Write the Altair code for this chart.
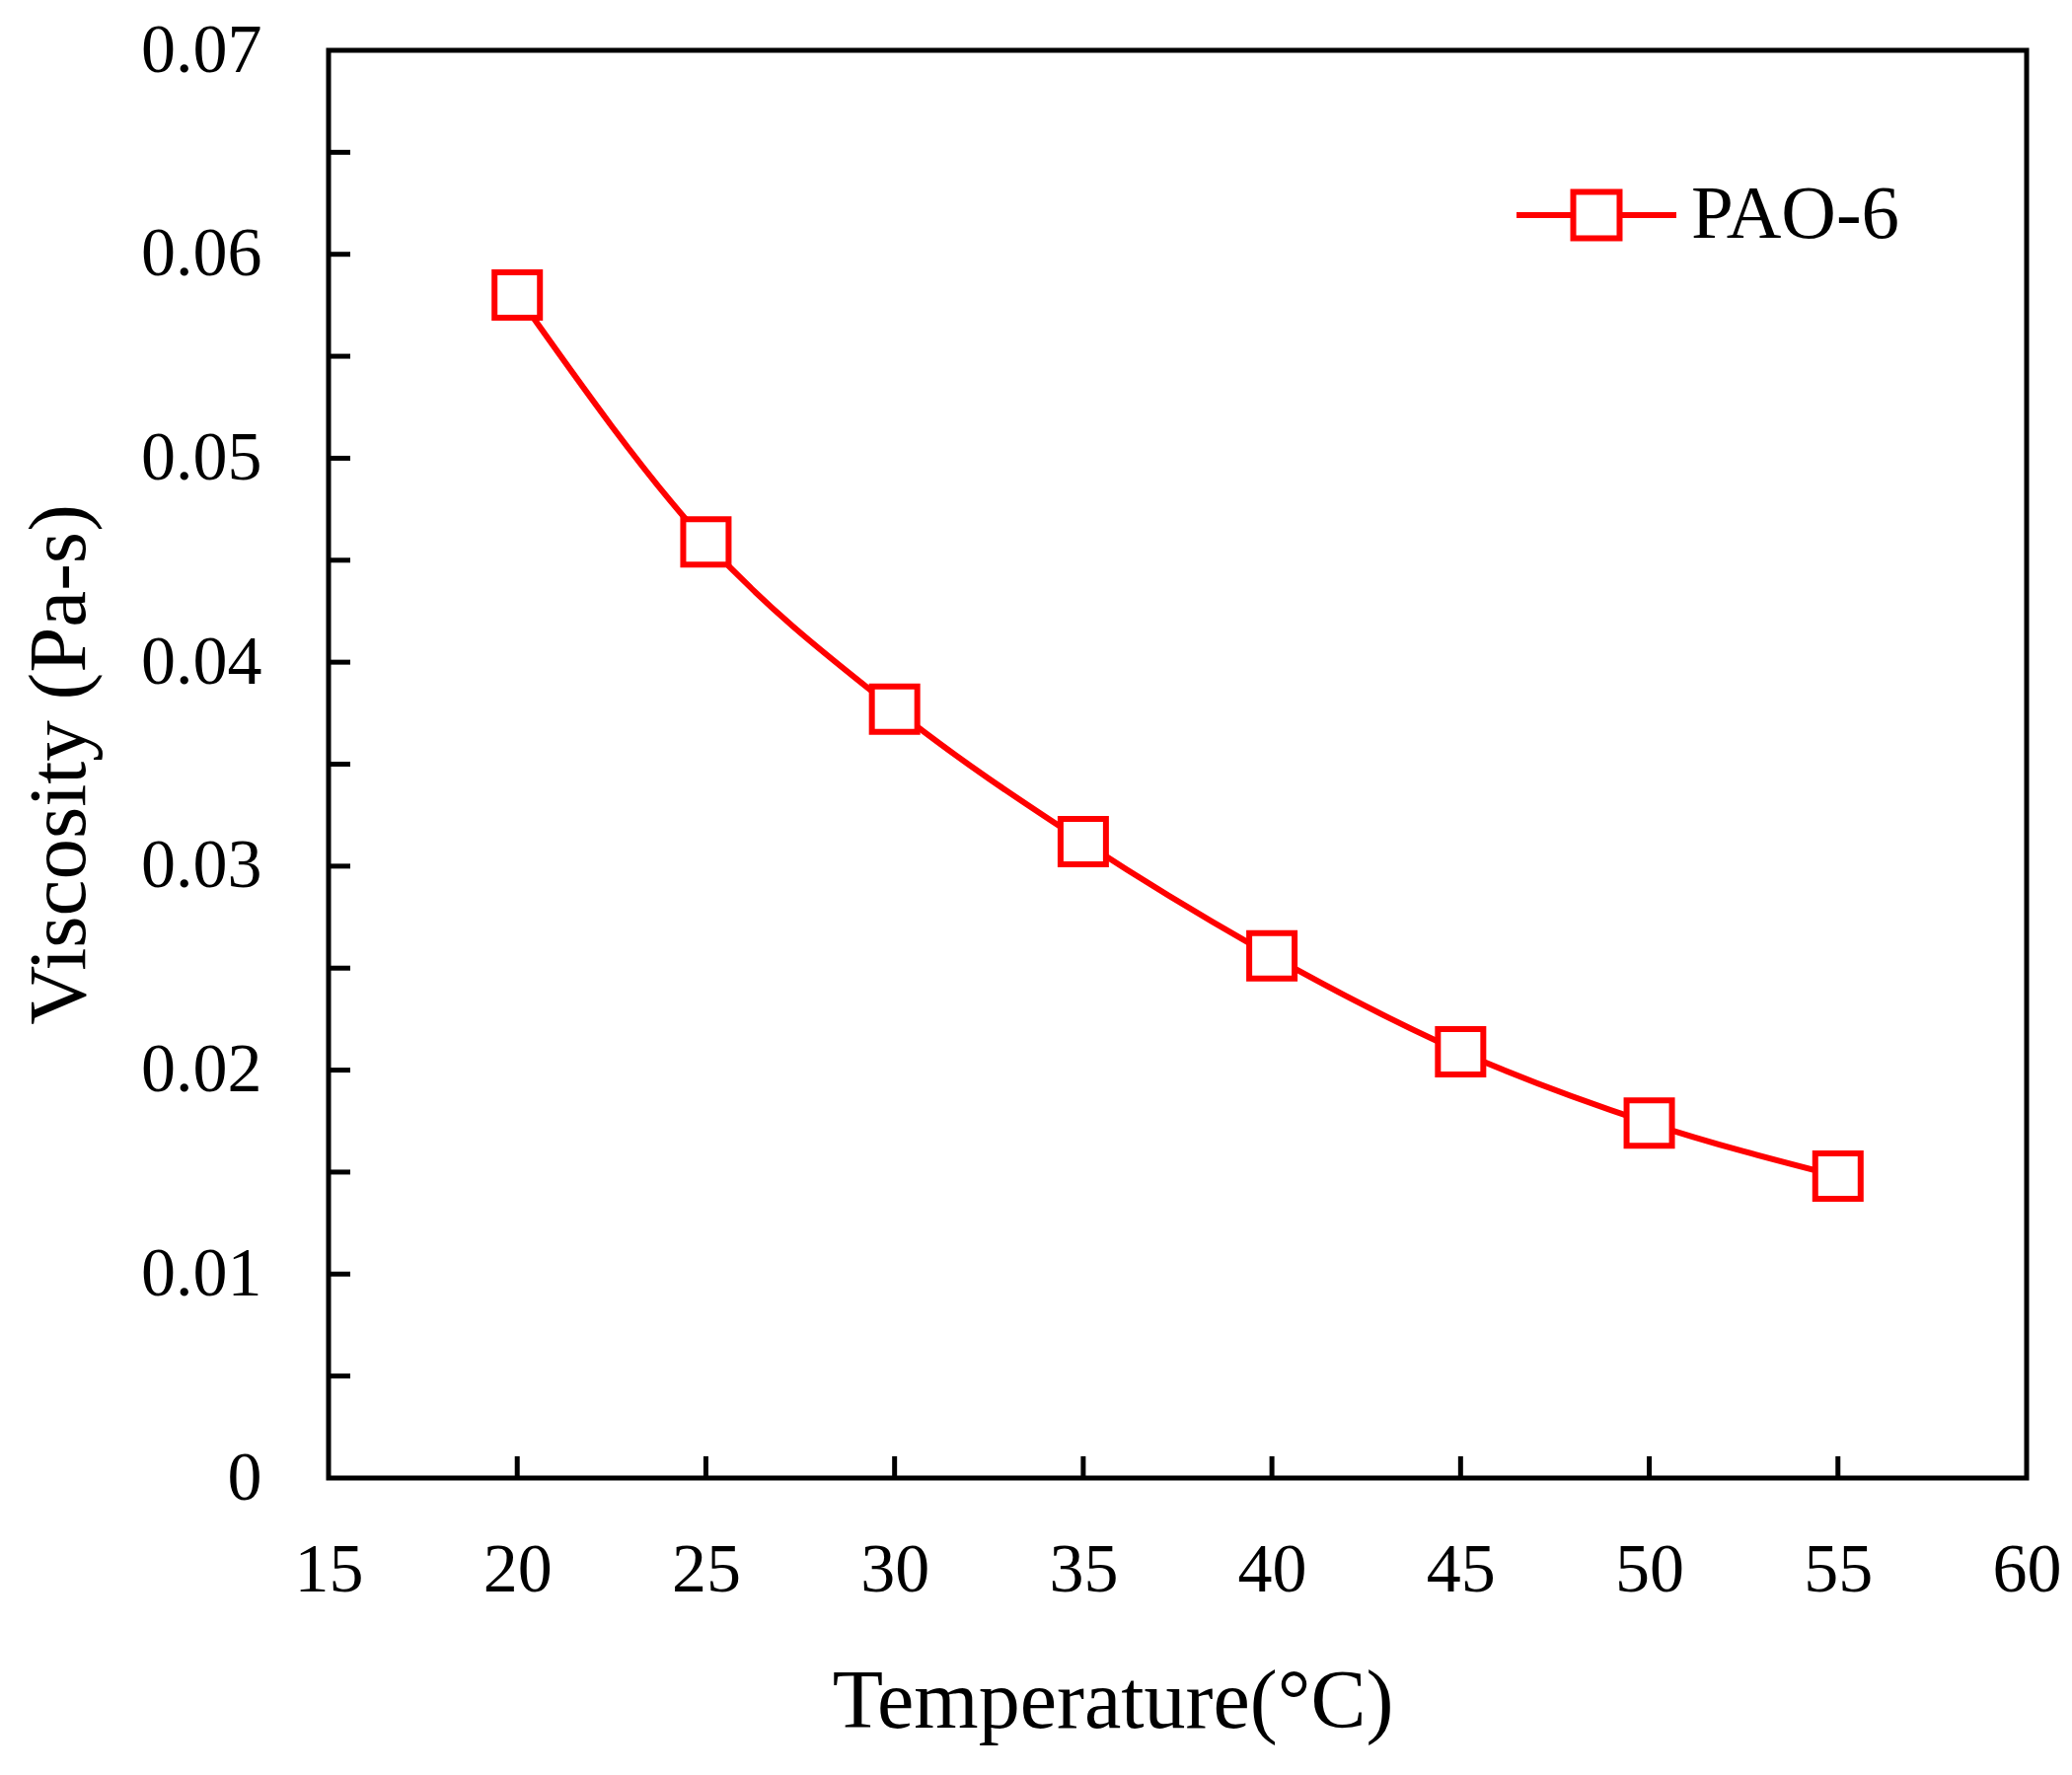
import altair as alt
import pandas as pd

# values
temperature = [20, 25, 30, 35, 40, 45, 50, 55]
viscosity = [0.0580, 0.0459, 0.0377, 0.0312, 0.0256, 0.0209, 0.0174, 0.0148]
series = ["PAO-6"] * len(temperature)

x_labels = [15, 20, 25, 30, 35, 40, 45, 50, 55, 60]
y_labels = [0, 0.01, 0.02, 0.03, 0.04, 0.05, 0.06, 0.07]
x_ticks = [20, 25, 30, 35, 40, 45, 50, 55]
y_ticks = [0.005, 0.01, 0.015, 0.02, 0.025, 0.03, 0.035, 0.04,
           0.045, 0.05, 0.055, 0.06, 0.065]

FONT = "Liberation Serif"
RED = "#ff0000"
W, H = 1721, 1447
TICK = 22

df = pd.DataFrame({"Temperature": temperature, "Viscosity": viscosity, "Series": series})

x_scale = alt.Scale(domain=[15, 60], nice=False, zero=False)
y_scale = alt.Scale(domain=[0, 0.07], nice=False, zero=False)

x_axis = alt.Axis(
    values=x_labels, ticks=False, domain=False, grid=False,
    labelFont=FONT, labelFontSize=70, labelColor="black", labelPadding=59,
    labelFlush=False, labelOverlap=False,
    title="Temperature(°C)", titleFont=FONT, titleFontSize=84,
    titleFontWeight="normal", titleColor="black", titlePadding=58,
    titleX=W / 2 - 66, titleAlign="center",
)
y_axis = alt.Axis(
    values=y_labels, format="~g", ticks=False, domain=False, grid=False,
    labelFont=FONT, labelFontSize=70, labelColor="black", labelPadding=68,
    labelOverlap=False,
    title="Viscosity (Pa-s)", titleFont=FONT, titleFontSize=83,
    titleFontWeight="normal", titleColor="black", titlePadding=40,
)

base = alt.Chart(df).encode(
    x=alt.X("Temperature:Q", scale=x_scale, axis=x_axis),
    y=alt.Y("Viscosity:Q", scale=y_scale, axis=y_axis),
)

line = base.mark_line(interpolate="monotone", strokeWidth=6, color=RED)

# legend symbol: short line with an open square in the middle
legend_path = "M-1,0H-0.29M0.29,0H1M-0.29,-0.29H0.29V0.29H-0.29Z"

points = base.mark_point(shape="square", size=2116, strokeWidth=6, fill="white",
                         fillOpacity=1, opacity=1).encode(
    stroke=alt.Stroke(
        "Series:N",
        scale=alt.Scale(domain=["PAO-6"], range=[RED]),
        legend=alt.Legend(
            title=None, orient="none", legendX=1201, legendY=83,
            symbolType=legend_path, symbolSize=26244, symbolStrokeWidth=6,
            symbolFillColor="white", labelFont=FONT, labelFontSize=77,
            labelColor="black", labelOffset=12, labelLimit=0, padding=0,
        ),
    )
)

# inward ticks on the left and bottom
ytick_df = pd.DataFrame({"Viscosity": y_ticks})
xtick_df = pd.DataFrame({"Temperature": x_ticks})

yticks = alt.Chart(ytick_df).mark_rule(color="black", strokeWidth=5).encode(
    y=alt.Y("Viscosity:Q", scale=y_scale, axis=y_axis),
    x=alt.value(0), x2=alt.value(TICK),
)
xticks = alt.Chart(xtick_df).mark_rule(color="black", strokeWidth=5).encode(
    x=alt.X("Temperature:Q", scale=x_scale, axis=x_axis),
    y=alt.value(H), y2=alt.value(H - TICK),
)

chart = alt.layer(yticks, xticks, line, points).properties(
    width=W, height=H,
    autosize=alt.AutoSizeParams(type="none"),
    padding={"left": 325, "top": 43, "right": 38, "bottom": 293},
).configure(
    background="white"
).configure_view(
    stroke="black", strokeWidth=5, fill="white"
)

chart.save("out.html", embed_options={"renderer": "svg", "actions": False})
